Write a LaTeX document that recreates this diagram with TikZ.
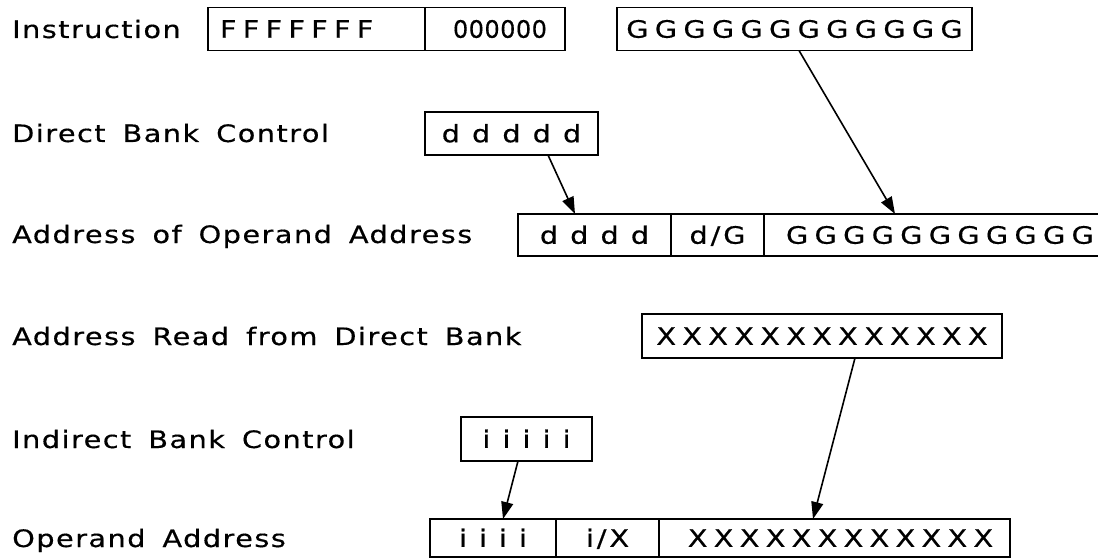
\documentclass[tikz,border=0pt]{standalone}
\usepackage{fontspec}
\setmainfont{DejaVu Sans}[FakeStretch=1.2,FakeBold=0.4,LetterSpace=6,WordSpace=1.6]
\newfontfamily\fieldfont{DejaVu Sans}[FakeStretch=1.2,FakeBold=0.4,LetterSpace=12]
\newfontfamily\widefont{DejaVu Sans}[FakeStretch=1.2,FakeBold=0.4,LetterSpace=26]
\newfontfamily\tightfont{DejaVu Sans}[FakeBold=0.4,LetterSpace=2]
\usetikzlibrary{arrows.meta,positioning}

\begin{document}
\begin{tikzpicture}[x=1pt,y=-1pt,
  field/.style={draw, line width=1.9pt, inner sep=0pt, outer sep=0pt,
    minimum height=43pt, text height=17.5pt, text depth=0pt,
    font=\fieldfont\fontsize{24}{24}\selectfont},
  wide/.style={font=\widefont\fontsize{24}{24}\selectfont},
  tight/.style={font=\tightfont\fontsize{24}{24}\selectfont},
  lbl/.style={anchor=base west, inner sep=0pt, font=\fontsize{24}{24}\selectfont},
  arr/.style={line width=1.6pt, -{Triangle[length=17pt,width=12pt]}}]
\useasboundingbox (0,0) rectangle (1098,559);
\clip (0,0) rectangle (1098,559);
% row labels
\node[lbl] (linstr) at (12,38) {Instruction};
\node[lbl] (ldbc)   at (12,142) {Direct Bank Control};
\node[lbl] (laoa)   at (12,243)  {Address of Operand Address};
\node[lbl] (lread)  at (12,345)  {Address Read from Direct Bank};
\node[lbl] (libc)   at (12,448)  {Indirect Bank Control};
\node[lbl] (loa)    at (12,547)  {Operand Address};
% instruction
\node[field, wide, minimum width=217pt, anchor=west, text width=193pt, align=left] (ff) at (208,29) {FFFFFFF};
\node[field, tight, minimum width=140pt, right=0pt of ff] (oo) {\hspace*{10pt}000000};
\node[field, wide, minimum width=355pt, anchor=west] (gg) at (617,29) {GGGGGGGGGGGG};
% direct bank control
\node[field, minimum width=173pt, anchor=west] (dbc) at (425,133.5) {d d d d d};
% address of operand address
\node[field, minimum width=153pt, minimum height=42pt, anchor=west] (aoa1) at (518,235) {d d d d};
\node[field, minimum width=93pt, minimum height=42pt, right=0pt of aoa1] (aoa2) {d/G};
\node[field, wide, minimum width=400pt, minimum height=42pt, right=0pt of aoa2, text width=356pt, align=left] (aoa3) {GGGGGGGGGGG};
% address read from direct bank
\node[field, wide, minimum width=360pt, minimum height=44pt, anchor=west] (xx) at (642,336) {XXXXXXXXXXXXX};
% indirect bank control
\node[field, minimum width=131pt, minimum height=44pt, anchor=west] (ibc) at (461,439) {i i i i i};
% operand address
\node[field, minimum width=126pt, minimum height=38pt, anchor=west] (oa1) at (430,538) {i i i i};
\node[field, minimum width=103pt, minimum height=38pt, right=0pt of oa1] (oa2) {i/X};
\node[field, wide, minimum width=351pt, minimum height=38pt, right=0pt of oa2] (oa3) {\hspace*{12pt}XXXXXXXXXXXX};
% arrows
\draw[arr] ([xshift=123pt]dbc.south west) -- ([xshift=57pt]aoa1.north west);
\draw[arr] ([xshift=182pt]gg.south west) -- ([xshift=131pt]aoa3.north west);
\draw[arr] ([xshift=213pt]xx.south west) -- ([xshift=154pt]oa3.north west);
\draw[arr] ([xshift=57pt]ibc.south west) -- ([xshift=73pt]oa1.north west);
\end{tikzpicture}
\end{document}
